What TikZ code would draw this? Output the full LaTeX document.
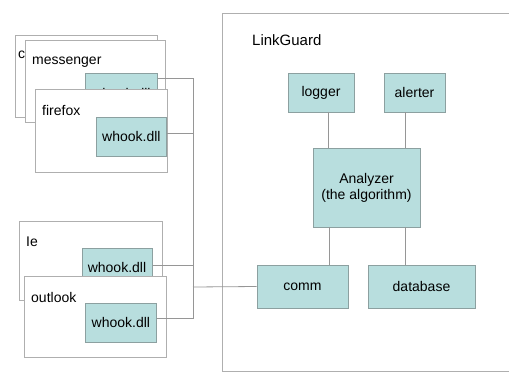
\documentclass[tikz,border=0pt]{standalone}
\usepackage{fontspec}
\setmainfont{Liberation Sans}
\definecolor{boxfill}{RGB}{184,222,222}
\definecolor{boxedge}{RGB}{140,160,160}
\definecolor{winedge}{RGB}{175,175,175}
\definecolor{wire}{RGB}{150,150,150}
\begin{document}
\begin{tikzpicture}[x=1pt,y=-1pt,
  comp/.style={draw=boxedge,fill=boxfill,line width=0.8pt,inner sep=0pt,font=\fontsize{14}{16}\selectfont},
  win/.style={draw=winedge,fill=white,line width=0.8pt},
  wintext/.style={anchor=west,font=\fontsize{14}{16}\selectfont,inner sep=0pt},
  wirestyle/.style={draw=wire,line width=0.8pt}]
\useasboundingbox (0,0) rectangle (509,373);
% LinkGuard container (right side open)
\draw[winedge,line width=0.8pt] (509,13) -- (222,13) -- (222,371) -- (509,371);
\node[anchor=west,inner sep=0pt,font=\fontsize{15}{17}\selectfont] (lgtitle) at (252,40) {LinkGuard};

% components
\node[comp,minimum width=66pt,minimum height=39pt] (logger) at (321,92.5) {logger};
\node[comp,minimum width=61pt,minimum height=39pt] (alerter) at (414.5,92.5) {alerter};
\node[comp,minimum width=107pt,minimum height=79pt,align=center] (analyzer) at (366.5,187.5) {Analyzer\\(the algorithm)};
\node[comp,minimum width=91pt,minimum height=43pt] (comm) at (302.5,286.5) {comm};
\node[comp,minimum width=107pt,minimum height=43pt] (database) at (421.5,286.5) {database};

\draw[wirestyle] (logger.south -| 328,0) -- (analyzer.north -| 328,0);
\draw[wirestyle] (alerter.south -| 405,0) -- (analyzer.north -| 405,0);
\draw[wirestyle] (analyzer.south -| 329,0) -- (comm.north -| 329,0);
\draw[wirestyle] (analyzer.south -| 405,0) -- (database.north -| 405,0);

% left windows, top group
\draw[win] (15,35) rectangle (157,117);
\node[wintext] (cwin) at (18,55) {c};
\draw[win] (25,40) rectangle (165,122);
\node[wintext] (messenger) at (32,62) {messenger};
\node[comp,minimum width=72pt,minimum height=40pt,anchor=north west] (hookm) at (85,73) {};
\node[font=\fontsize{14}{16}\selectfont,inner sep=0pt] (hookmtext) at (hookm.center) {whook.dll};
\draw[win] (35,89) rectangle (167,172);
\node[wintext] (firefox) at (42,110) {firefox};
\node[comp,minimum width=70pt,minimum height=39pt,anchor=north west] (hookf) at (96,117) {whook.dll};

% left windows, bottom group
\draw[win] (19,221) rectangle (162,300);
\node[wintext] (ie) at (26,242) {Ie};
\node[comp,minimum width=70pt,minimum height=40pt,anchor=north west] (hooki) at (82,248) {};
\node[font=\fontsize{14}{16}\selectfont,inner sep=0pt] (hookitext) at (117,267) {whook.dll};
\draw[win] (24,276) rectangle (166,357);
\node[wintext] (outlook) at (31,297) {outlook};
\node[comp,minimum width=71pt,minimum height=39pt,anchor=north west] (hooko) at (85,303) {whook.dll};

% bus
\coordinate (bustop) at (193,78);
\coordinate (busbot) at (193,318);
\draw[wirestyle] (hookm.north east |- 0,78) -- (bustop) -- (busbot) -- (hooko.east |- 0,318);
\draw[wirestyle] (hookf.east |- 0,133) -- (193,133);
\draw[wirestyle] (hooki.east |- 0,265) -- (193,265);
\draw[wirestyle] (193,287) -- (comm.west);
\end{tikzpicture}
\end{document}
